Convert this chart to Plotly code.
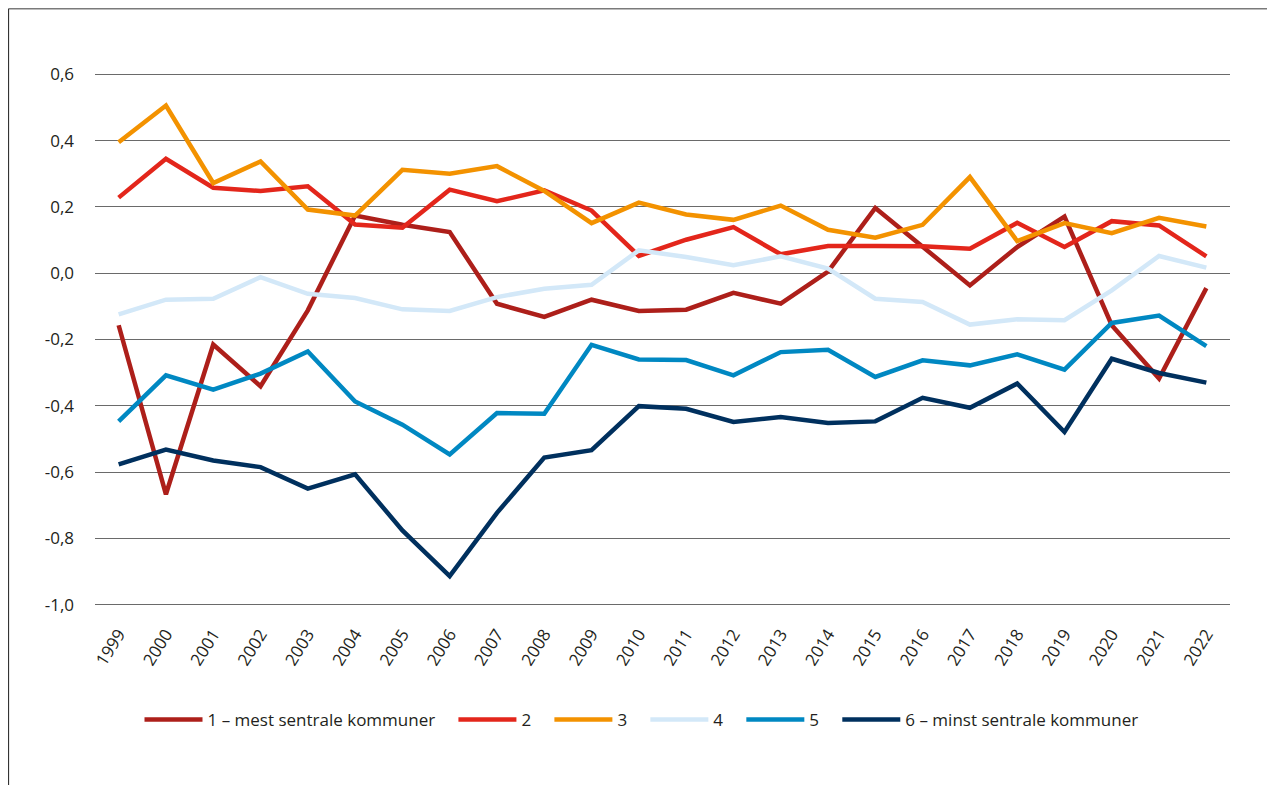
import plotly.graph_objects as go

years = [str(y) for y in range(1999, 2023)]

s1 = [-0.157, -0.667, -0.215, -0.341, -0.112, 0.174, 0.146, 0.124, -0.092, -0.132, -0.080, -0.114,
      -0.110, -0.059, -0.092, 0.005, 0.197, 0.079, -0.037, 0.079, 0.171, -0.157, -0.318, -0.045]
s2 = [0.228, 0.345, 0.258, 0.248, 0.262, 0.147, 0.137, 0.252, 0.217, 0.250, 0.189, 0.052,
      0.101, 0.139, 0.057, 0.082, 0.082, 0.081, 0.074, 0.152, 0.079, 0.157, 0.144, 0.051]
s3 = [0.395, 0.506, 0.272, 0.337, 0.192, 0.174, 0.312, 0.300, 0.323, 0.248, 0.151, 0.213,
      0.177, 0.161, 0.204, 0.131, 0.107, 0.146, 0.290, 0.097, 0.151, 0.121, 0.167, 0.141]
s4 = [-0.124, -0.080, -0.077, -0.012, -0.062, -0.075, -0.109, -0.114, -0.072, -0.047, -0.035, 0.069,
      0.049, 0.024, 0.051, 0.014, -0.077, -0.087, -0.155, -0.139, -0.142, -0.052, 0.052, 0.017]
s5 = [-0.447, -0.308, -0.351, -0.303, -0.236, -0.387, -0.457, -0.547, -0.422, -0.424, -0.216, -0.260,
      -0.262, -0.308, -0.238, -0.231, -0.313, -0.263, -0.278, -0.245, -0.291, -0.150, -0.128, -0.220]
s6 = [-0.577, -0.532, -0.565, -0.585, -0.650, -0.607, -0.776, -0.914, -0.723, -0.556, -0.534, -0.401,
      -0.409, -0.449, -0.434, -0.452, -0.447, -0.376, -0.406, -0.333, -0.479, -0.258, -0.301, -0.330]

names = ["1 – mest sentrale kommuner", "2", "3", "4", "5", "6 – minst sentrale kommuner"]
colors = ["#AD1F1A", "#E3261B", "#F39200", "#D3E8F8", "#0088C2", "#00305E"]
series = [s1, s2, s3, s4, s5, s6]

ytick_vals = [-1.0, -0.8, -0.6, -0.4, -0.2, 0.0, 0.2, 0.4, 0.6]
ytick_text = ["-1,0", "-0,8", "-0,6", "-0,4", "-0,2", "0,0", "0,2", "0,4", "0,6"]

FONT = "Open Sans"
TXT = "#231F20"
PAD = "\u00a0\u00a0\u00a0"

fig = go.Figure()
for i, (name, color, vals) in enumerate(zip(names, colors, series)):
    label = name + (PAD if i < len(names) - 1 else "")
    fig.add_trace(go.Scatter(x=years, y=vals, name=label, mode="lines",
                             line=dict(color=color, width=4.5)))

W, H = 1267, 777
fig.update_layout(
    width=W, height=H,
    paper_bgcolor="white", plot_bgcolor="white",
    margin=dict(l=87, r=45, t=63, b=177),
    font=dict(family=FONT, size=17, color=TXT),
    showlegend=True,
    legend=dict(orientation="h", x=0.5, xref="container", xanchor="center",
                y=(H - 712) / H, yref="container", yanchor="middle",
                font=dict(family=FONT, size=17, color=TXT),
                itemwidth=58, tracegroupgap=0),
    xaxis=dict(type="category", range=[-0.5, 23.5], showgrid=False, zeroline=False,
               showline=False, ticks="", tickangle=-58, ticklabelstandoff=12,
               tickfont=dict(family=FONT, size=17, color=TXT)),
    yaxis=dict(range=[-1.01, 0.61], tickvals=ytick_vals, ticktext=ytick_text,
               showgrid=True, gridcolor="#6A6A6A", gridwidth=1.2,
               zeroline=False, showline=False, ticks="", ticklabelstandoff=20,
               tickfont=dict(family=FONT, size=17, color=TXT)),
)

# Outer frame lines (top and left) as in the reference
fig.add_shape(type="line", xref="paper", yref="paper", x0=-0.0762, x1=1.05, y0=1.1160, y1=1.1160,
              line=dict(color="#7A7A7A", width=1.5))
fig.add_shape(type="line", xref="paper", yref="paper", x0=-0.0762, x1=-0.0762, y0=1.1160, y1=-0.35,
              line=dict(color="#333333", width=1.2))

fig.write_html("out.html")
